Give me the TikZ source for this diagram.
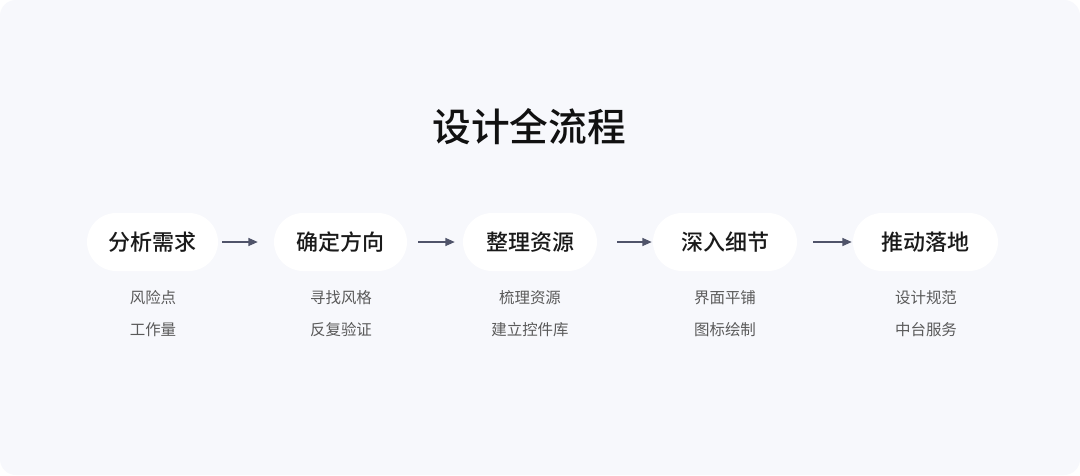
\documentclass[tikz,border=0pt]{standalone}
\usepackage{fontspec}
\setmainfont{Noto Sans CJK SC}
\newfontfamily\medfont{Noto Sans CJK SC Medium}
\usetikzlibrary{arrows.meta}
\definecolor{bgc}{HTML}{F7F8FC}
\definecolor{titc}{HTML}{111111}
\definecolor{pillt}{HTML}{1A1A1A}
\definecolor{subc}{HTML}{5A5A5A}
\definecolor{arrc}{HTML}{50546A}
\tikzset{
  pill/.style={fill=white, rounded corners=29*0.75pt, minimum height=58*0.75pt, inner sep=0pt,
    font=\fontsize{16.5pt}{20pt}\selectfont\medfont, text=pillt},
  subtxt/.style={font=\fontsize{11.6pt}{14pt}\selectfont, text=subc, inner sep=0pt},
  arr/.style={draw=arrc, line width=1pt, -{Triangle[length=7pt,width=6pt]}},
}
\begin{document}
\begin{tikzpicture}[x=0.75pt,y=-0.75pt]
\useasboundingbox (0,0) rectangle (1080,475);
\fill[white] (0,0) rectangle (1080,475);
\fill[bgc, rounded corners=12pt] (0,0) rectangle (1080,475);
\node[font=\fontsize{29pt}{34pt}\selectfont\medfont, text=titc, inner sep=0pt] (title) at (529,127) {设计全流程};
\node[pill, minimum width=131*0.75pt] (p1) at (152.5,242) {分析需求};
\node[pill, minimum width=133*0.75pt] (p2) at (340.5,242) {确定方向};
\node[pill, minimum width=134*0.75pt] (p3) at (530,242) {整理资源};
\node[pill, minimum width=144*0.75pt] (p4) at (725,242) {深入细节};
\node[pill, minimum width=145*0.75pt] (p5) at (925.5,242) {推动落地};
\draw[arr] ([xshift=4*0.75pt]p1.east) -- ([xshift=-16*0.75pt]p2.west);
\draw[arr] ([xshift=11*0.75pt]p2.east) -- ([xshift=-8*0.75pt]p3.west);
\draw[arr] ([xshift=20*0.75pt]p3.east) -- ([xshift=-1*0.75pt]p4.west);
\draw[arr] ([xshift=16*0.75pt]p4.east) -- ([xshift=-1*0.75pt]p5.west);
\node[subtxt] (s1a) at (153,297.5) {风险点};
\node[subtxt] (s1b) at (153,329.5) {工作量};
\node[subtxt] (s2a) at (341,297.5) {寻找风格};
\node[subtxt] (s2b) at (341,329.5) {反复验证};
\node[subtxt] (s3a) at (530,297.5) {梳理资源};
\node[subtxt] (s3b) at (530,329.5) {建立控件库};
\node[subtxt] (s4a) at (725,297.5) {界面平铺};
\node[subtxt] (s4b) at (725,329.5) {图标绘制};
\node[subtxt] (s5a) at (926,297.5) {设计规范};
\node[subtxt] (s5b) at (926,329.5) {中台服务};
\end{tikzpicture}
\end{document}
